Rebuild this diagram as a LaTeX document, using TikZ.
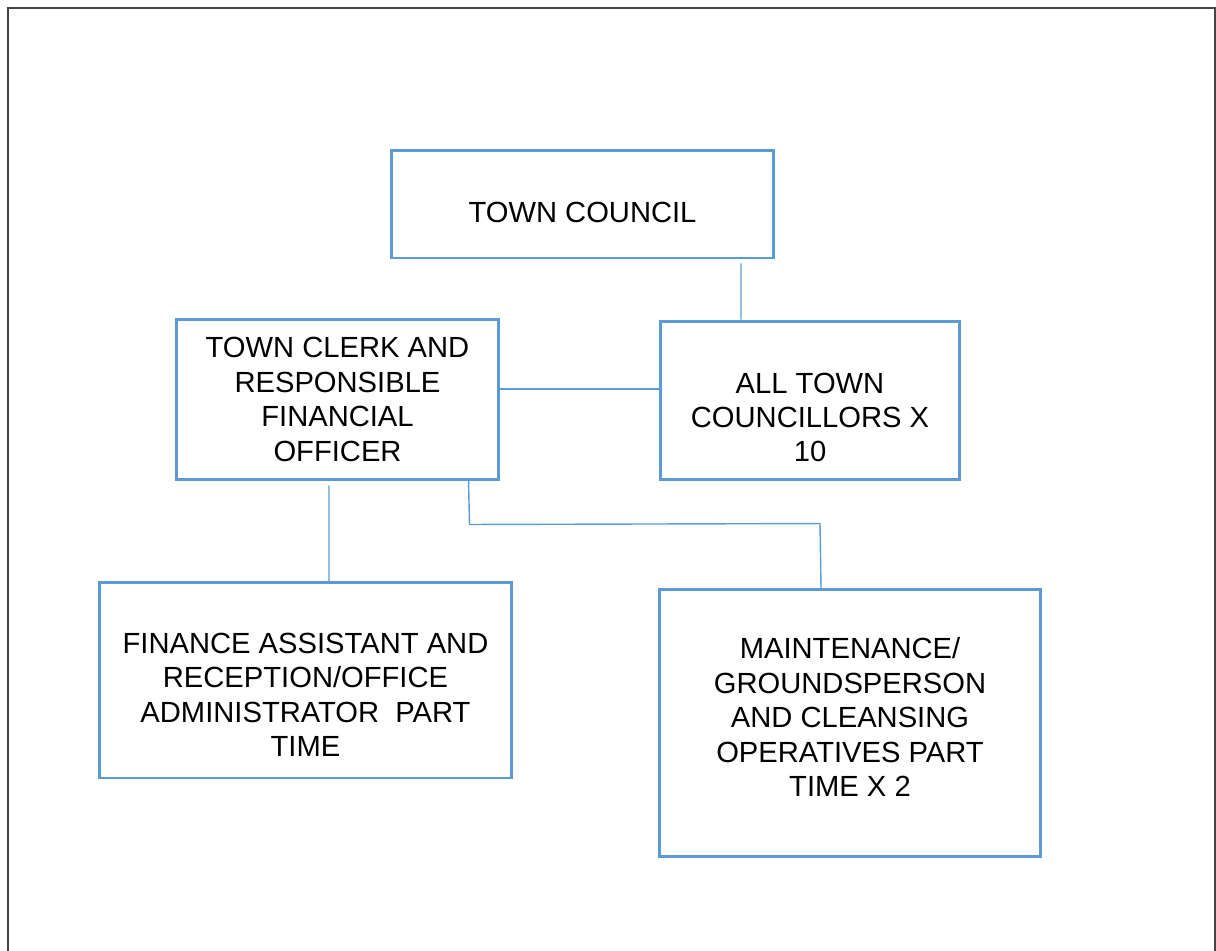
\documentclass[tikz,border=0pt]{standalone}
\usepackage{fontspec}
\setmainfont{Liberation Sans}
\usepackage{tikz}
\usetikzlibrary{positioning, calc}
\newcommand{\boxfont}{\fontsize{16.6}{19.6}\selectfont}
\begin{document}
\begin{tikzpicture}
    [x=0.02cm, y=-0.02cm,
    link/.style={draw=boxblue, line width=0.8pt},
    ob/.style={rectangle, draw=boxblue, line width=1.7pt, inner sep=0pt},
    txt/.style={align=center, font=\boxfont, text=black, inner sep=0pt}]
    \definecolor{boxblue}{RGB}{91,155,213};
    \definecolor{framegray}{RGB}{68,68,68};
    \useasboundingbox (0,0) rectangle (1216,950);
    \draw[framegray, line width=1.2pt] (8,952) -- (8,8) -- (1215,8) -- (1215,952);
    \node [ob, minimum width=7.66cm, minimum height=2.16cm] (Council) at (582.5,204) {};
    \node [ob, minimum width=6.46cm, minimum height=3.22cm] (Clerk) at (337.5,399.5) {};
    \node [ob, minimum width=6.0cm, minimum height=3.18cm] (Members) at (810,400.5) {};
    \node [ob, minimum width=8.26cm, minimum height=3.92cm] (Finance) at (305.5,680) {};
    \node [ob, minimum width=7.64cm, minimum height=5.36cm] (Grounds) at (850,723) {};
    \node [txt] (CouncilText) at ($(Council.center)+(0,8)$) {TOWN COUNCIL};
    \node [txt] (ClerkText) at (Clerk.center) {TOWN CLERK AND\\RESPONSIBLE\\FINANCIAL\\OFFICER};
    \node [txt] (MembersText) at ($(Members.center)+(0,17)$) {ALL TOWN\\COUNCILLORS X\\10};
    \node [txt] (FinanceText) at ($(Finance.center)+(0,15)$) {FINANCE ASSISTANT AND\\RECEPTION/OFFICE\\ADMINISTRATOR\ \ PART\\TIME};
    \node [txt] (GroundsText) at ($(Grounds.center)+(0,-6)$) {MAINTENANCE/\\GROUNDSPERSON\\AND CLEANSING\\OPERATIVES PART\\TIME X 2};
    \draw[link] ($(Council.south)+(158.5,4)$) -- ($(Members.north)+(-69,0)$);
    \draw[link] ($(Clerk.east)+(-2,-10.5)$) -- ($(Members.west)+(0,-11.5)$);
    \draw[link] ($(Clerk.south)+(-8.5,4)$) -- ($(Finance.north)+(23.5,3)$);
    \draw[link] ($(Clerk.south)+(131,-2)$) -- ($(Clerk.south)+(132,43)$) -- ($(Grounds.north)+(-30,-64)$) -- ($(Grounds.north)+(-29,1)$);
\end{tikzpicture}
\end{document}
